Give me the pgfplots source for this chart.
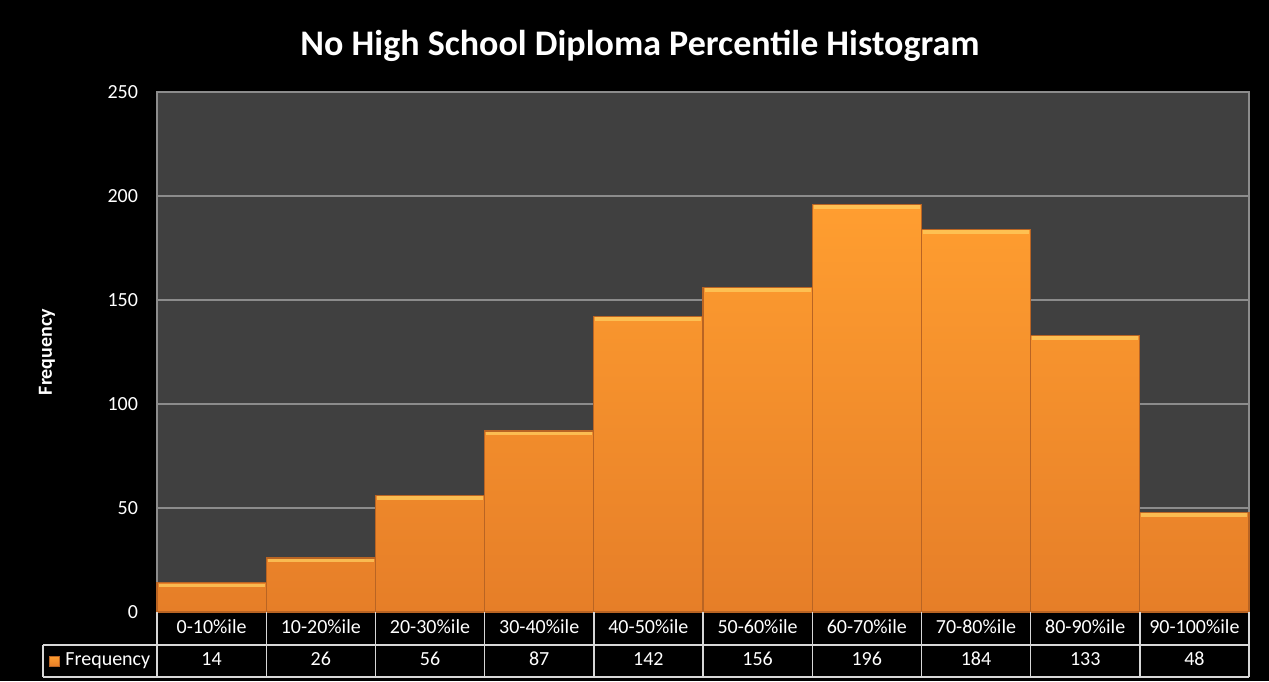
\documentclass[border=0pt]{standalone}
\usepackage{fontspec}
\setmainfont{Carlito}
\usepackage{pgfplots}
\pgfplotsset{compat=1.18}

\definecolor{plotbg}{RGB}{64,64,64}
\definecolor{gridc}{RGB}{140,140,140}
\definecolor{bartop}{RGB}{255,158,48}
\definecolor{barbot}{RGB}{230,126,40}
\definecolor{baredge}{RGB}{185,100,35}
\definecolor{barhi}{RGB}{255,206,95}
\definecolor{tabline}{RGB}{215,215,215}

\begin{document}
\begin{tikzpicture}
% page background
\fill[black] (0pt,0pt) rectangle (634.5pt,340.5pt);

\node[font=\bfseries\fontsize{18}{20}\selectfont, text=white]
  at (320pt,317.5pt) {No High School Diploma Percentile Histogram};

\begin{axis}[
  at={(78.5pt,34.5pt)}, anchor=south west,
  scale only axis, width=546pt, height=260pt,
  xmin=0, xmax=10, ymin=0, ymax=250,
  ytick={0,50,...,250},
  axis background/.style={fill=plotbg},
  axis line style={gridc, line width=0.7pt},
  ymajorgrids, grid style={gridc, line width=0.7pt},
  major tick length=0,
  tick label style={font=\fontsize{10}{12}\selectfont, text=white},
  /pgf/number format/assume math mode=true,
  yticklabel style={xshift=-6pt},
  xtick={0.5,1.5,...,9.5},
  xticklabels={0-10\%ile,10-20\%ile,20-30\%ile,30-40\%ile,40-50\%ile,
    50-60\%ile,60-70\%ile,70-80\%ile,80-90\%ile,90-100\%ile},
  xticklabel style={anchor=base, yshift=-10.5pt},
  extra x ticks={0.5,1.5,...,9.5},
  extra x tick labels={14,26,56,87,142,156,196,184,133,48},
  extra x tick style={xticklabel style={yshift=-16pt}},
  ylabel={Frequency},
  ylabel style={at={(axis description cs:0,0.5)}, anchor=center,
    yshift=55pt, font=\bfseries\fontsize{10}{12}\selectfont, text=white},
  clip=false,
]
\addplot[ybar, bar width=1, bar shift=0, draw=baredge, line width=0.6pt,
  top color=bartop, bottom color=barbot,
  error bars/.cd, x dir=both, x fixed=0.485,
  error mark=none,
  error bar style={barhi, opacity=0.75, line width=1.8pt, yshift=-1.3pt}]
  coordinates {
  (0.5,14) (1.5,26) (2.5,56) (3.5,87) (4.5,142)
  (5.5,156) (6.5,196) (7.5,184) (8.5,133) (9.5,48)
};
\end{axis}

% data table grid
\draw[tabline, line width=0.7pt] (21.5pt,18pt) -- (624.5pt,18pt);
\draw[tabline, line width=0.7pt] (21.5pt,2pt) -- (624.5pt,2pt);
\draw[tabline, line width=0.7pt] (21.5pt,18pt) -- (21.5pt,2pt);
\foreach \i in {0,...,10}
  \draw[tabline, line width=0.7pt] ({78.5pt+54.6pt*\i},34.5pt) -- ({78.5pt+54.6pt*\i},2pt);
\shade[top color=bartop, bottom color=barbot, draw=baredge, line width=0.3pt]
  (24.5pt,7.5pt) rectangle (29.5pt,12.5pt);
\node[anchor=base west, inner sep=0pt, text=white, font=\fontsize{10}{12}\selectfont]
  at (32.5pt,8pt) {Frequency};

\pgfresetboundingbox
\useasboundingbox (0pt,0pt) rectangle (634.5pt,340.5pt);
\end{tikzpicture}
\end{document}
